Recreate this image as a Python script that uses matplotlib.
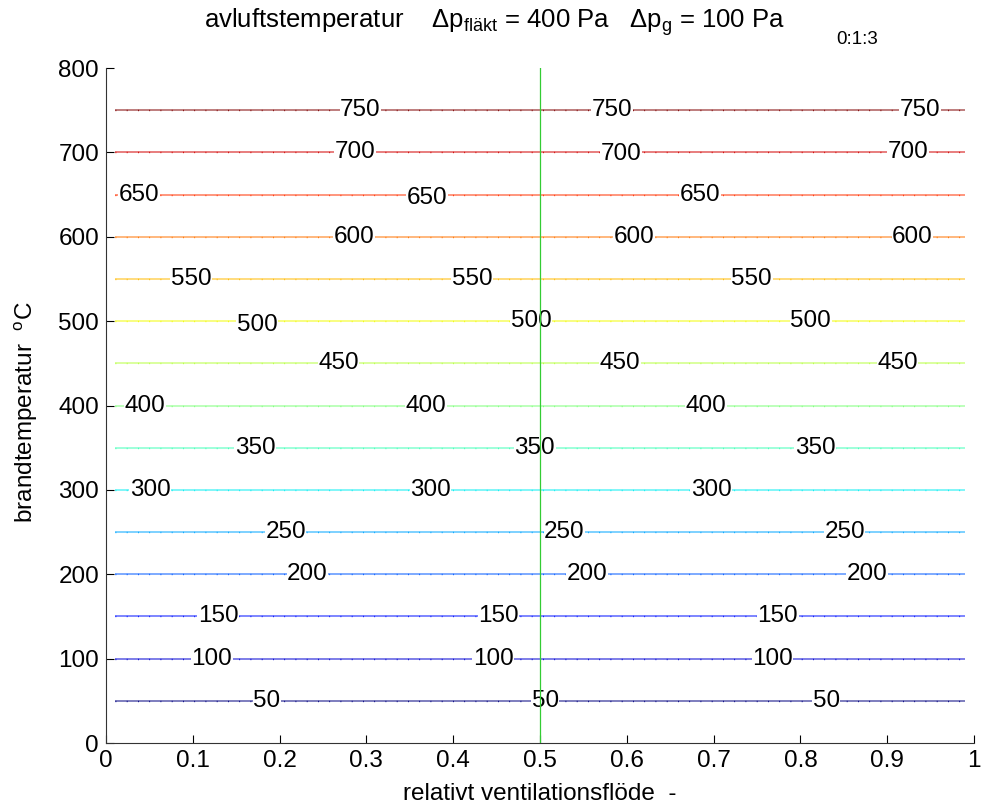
import numpy as np
import matplotlib.pyplot as plt

plt.rcParams['font.family'] = ['Liberation Sans', 'DejaVu Sans']
plt.rcParams['mathtext.fontset'] = 'custom'
plt.rcParams['mathtext.rm'] = 'Liberation Sans'
plt.rcParams['mathtext.it'] = 'Liberation Sans'

# contour levels (brandtemperatur) and extent of the lines in x
levels = [50, 100, 150, 200, 250, 300, 350, 400, 450, 500, 550, 600, 650, 700, 750]
x_start = 0.01
x_end = 0.99

# x positions of the inline labels for each level
label_x = {
    750: [0.293, 0.583, 0.938],
    700: [0.287, 0.593, 0.924],
    650: [0.038, 0.370, 0.684],
    600: [0.286, 0.608, 0.929],
    550: [0.098, 0.422, 0.744],
    500: [0.174, 0.490, 0.812],
    450: [0.268, 0.592, 0.912],
    400: [0.045, 0.369, 0.691],
    350: [0.172, 0.494, 0.817],
    300: [0.051, 0.374, 0.697],
    250: [0.207, 0.528, 0.851],
    200: [0.232, 0.554, 0.877],
    150: [0.129, 0.452, 0.774],
    100: [0.122, 0.446, 0.768],
    50: [0.185, 0.506, 0.830],
}
# small vertical offsets of some labels (data units)
label_dy = {650: [0, -4, 0], 700: [0, -2, 0], 500: [-5, 0, 0]}

design_flow = 0.5

fs = 17.5

fig = plt.figure(figsize=(9.82, 8.08), dpi=100)
ax = fig.add_axes([106 / 982, 1 - 743 / 808, 868 / 982, 675 / 808])

cmap = plt.colormaps['jet']
norm = plt.Normalize(min(levels), max(levels))
for lev in levels:
    col = cmap(norm(lev))
    ax.plot([x_start, x_end], [lev, lev], color=col, lw=1.3, alpha=0.55,
            solid_capstyle='butt')
    ax.plot([x_start, x_end], [lev, lev], color=col, lw=1.0,
            linestyle=(0, (0.6, 7.5)))
    dys = label_dy.get(lev, [0, 0, 0])
    for lx, dy in zip(label_x[lev], dys):
        ax.text(lx, lev + dy, str(lev), fontsize=fs, ha='center', va='center',
                zorder=3,
                bbox=dict(facecolor='white', edgecolor='none', pad=0.3))

ax.axvline(design_flow, color='#33cc33', lw=0.9, zorder=4)

ax.set_xlim(0, 1)
ax.set_ylim(0, 800)
ax.set_xticks(np.arange(0, 1.01, 0.1))
ax.set_xticklabels(['0', '0.1', '0.2', '0.3', '0.4', '0.5', '0.6', '0.7', '0.8', '0.9', '1'])
ax.set_yticks(np.arange(0, 801, 100))
ax.tick_params(direction='in', labelsize=fs, length=6, width=0.8, pad=5)
ax.spines['top'].set_visible(False)
ax.spines['right'].set_visible(False)
ax.spines['left'].set_color('#333333')
ax.spines['bottom'].set_color('#333333')

ax.set_xlabel('relativt ventilationsflöde  -', fontsize=fs, labelpad=8)
ax.set_ylabel('brandtemperatur  $^{\\mathrm{o}}$C', fontsize=fs)
ax.yaxis.set_label_coords(-0.076, 0.49)

fig.text(204 / 982, 0.972,
         'avluftstemperatur    $\\Delta$p$_{\\mathrm{fläkt}}$ = 400 Pa   '
         '$\\Delta$p$_{\\mathrm{g}}$ = 100 Pa',
         fontsize=18.5, ha='left', va='center')
fig.text(857 / 982, 1 - 40 / 808, '0:1:3', fontsize=13.5, ha='center', va='center')

fig.savefig('out.png', dpi=100)
